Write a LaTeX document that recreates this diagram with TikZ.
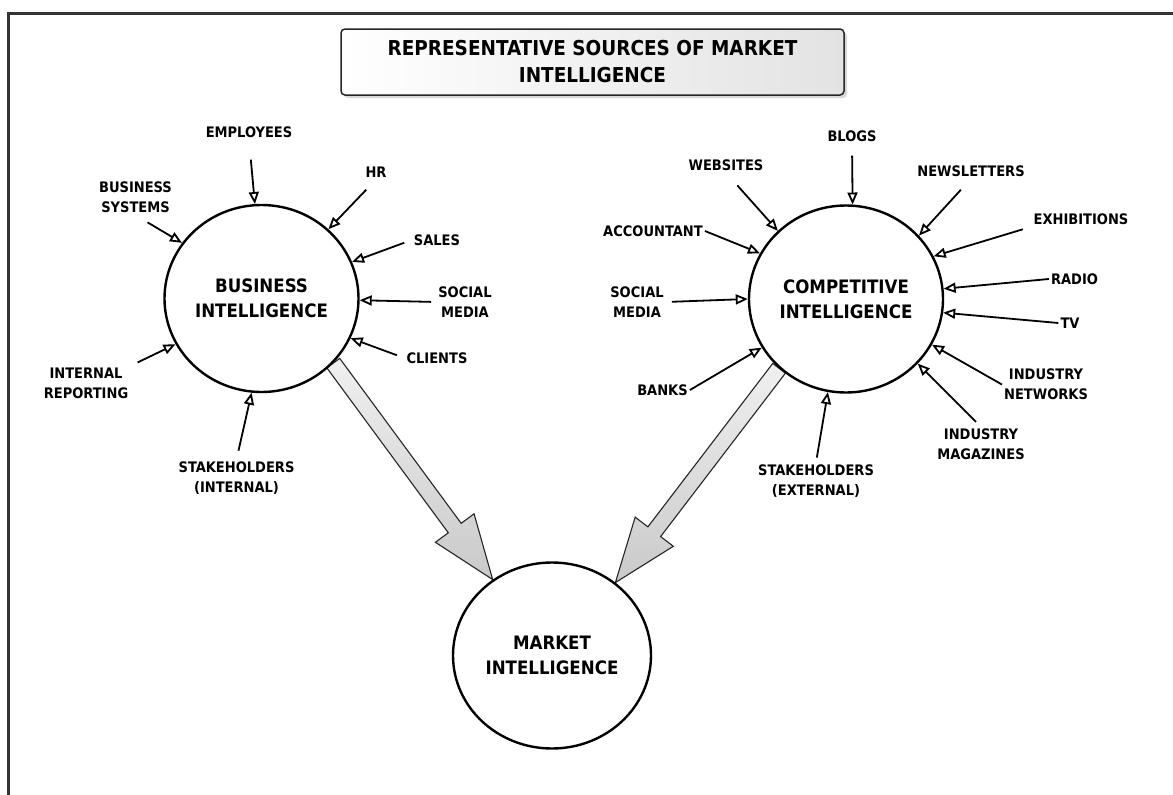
\documentclass[tikz,border=0pt]{standalone}
\usepackage{fontspec}
\setmainfont{DejaVu Sans Condensed}
\usetikzlibrary{arrows.meta, calc, shapes.geometric, shadows, backgrounds}

\tikzset{
	source/.style={font=\fontsize{14.5}{20}\selectfont\bfseries, align=center, inner sep=2pt},
	feed/.style={line width=1.8pt, -{Triangle[open, length=12pt, width=10pt]}},
	intel/.style={draw, ellipse, line width=2.4pt, fill=white, minimum width=194pt, minimum height=187pt, inner sep=0pt, align=center, font=\fontsize{18.5}{25}\selectfont\bfseries},
	bigarrow/.style={draw=black!85, line width=1.1pt, top color=gray!12, bottom color=gray!42},
	titlebox/.style={draw=black!85, line width=1.5pt, rounded corners=4pt, left color=white, right color=gray!22, drop shadow={shadow xshift=3pt, shadow yshift=-3pt, fill=gray!60}, minimum width=503pt, minimum height=66pt, align=center, font=\fontsize{20.5}{27}\selectfont\bfseries}
}

\begin{document}
\begin{tikzpicture}[x=1pt, y=-1pt]
		\useasboundingbox (0,0) rectangle (1173,795);
		
		\def\bigarrow(#1)(#2)% Syntax: (start)(tip)
		{ \coordinate (h) at ($(#2)!64pt!(#1)$);
		  \draw[bigarrow] ($(#1)!8pt!90:(#2)$) -- ($(h)!8pt!-90:(#1)$) -- ($(h)!24pt!-90:(#1)$) -- (#2) -- ($(h)!24pt!90:(#1)$) -- ($(h)!8pt!90:(#1)$) -- ($(#1)!8pt!-90:(#2)$) -- cycle; }
		
		\draw[line width=3pt, black!80] (1173,13) -- (8,13) -- (8,795);
		\node[titlebox] (title) at (592.5,62) {REPRESENTATIVE SOURCES OF MARKET\\INTELLIGENCE};
		
		\node[intel] (bi) at (261.5,298.5) {BUSINESS\\INTELLIGENCE};
		\node[intel] (ci) at (846,299) {COMPETITIVE\\INTELLIGENCE};
		\node[intel, minimum width=198pt, minimum height=186pt] (mi) at (552,655.5) {MARKET\\INTELLIGENCE};
		
		\begin{scope}[on background layer]
		\fill[white] (0,0) rectangle (1173,795);
		\bigarrow(bi.-42)(mi.128)
		\bigarrow(ci.226)(mi.49)
		\end{scope}
		
		% business side
		\node[source] (employees) at (249,132) {EMPLOYEES};
		\node[source] (hr) at (376,172) {HR};
		\node[source] (bussys) at (135.5,197.5) {BUSINESS\\SYSTEMS};
		\node[source] (sales) at (437,240) {SALES};
		\node[source] (socialb) at (465,302) {SOCIAL\\MEDIA};
		\node[source] (clients) at (437,358) {CLIENTS};
		\node[source] (intrep) at (86,383.5) {INTERNAL\\REPORTING};
		\node[source] (stakeint) at (236.5,478) {STAKEHOLDERS\\(INTERNAL)};
		
		\draw[feed, shorten <=20pt] (employees.south) -- (bi.94);
		\draw[feed, shorten <=14pt] (hr.south) -- (bi.46);
		\draw[feed, shorten <=14pt] (bussys.south) -- (bi.145);
		\draw[feed, shorten <=8pt] (sales.west) -- (bi.22);
		\draw[feed, shorten <=5pt] (socialb.west) -- (bi.-1);
		\draw[feed, shorten <=8pt] (clients.west) -- (bi.-24);
		\draw[feed, shorten <=8pt] (intrep.north east) -- (bi.208);
		\draw[feed, shorten <=9pt] (stakeint.north) -- (bi.-96);
		
		% competitive side
		\node[source] (blogs) at (852,136) {BLOGS};
		\node[source] (websites) at (726,165) {WEBSITES};
		\node[source] (newsletters) at (971,171) {NEWSLETTERS};
		\node[source] (accountant) at (653,231) {ACCOUNTANT};
		\node[source] (exhibitions) at (1081,219) {EXHIBITIONS};
		\node[source] (socialc) at (637,302) {SOCIAL\\MEDIA};
		\node[source] (radio) at (1074.5,279) {RADIO};
		\node[source] (tv) at (1070,323) {TV};
		\node[source] (banks) at (662.5,390) {BANKS};
		\node[source] (indnet) at (1046,384.5) {INDUSTRY\\NETWORKS};
		\node[source] (indmag) at (981,444.5) {INDUSTRY\\MAGAZINES};
		\node[source] (stakeext) at (816,481) {STAKEHOLDERS\\(EXTERNAL)};
		
		\draw[feed, shorten <=12pt] (blogs.south) -- (ci.86);
		\draw[feed, shorten <=17pt] (websites.south) -- (ci.135);
		\draw[feed, shorten <=15pt] (newsletters.south) -- (ci.41);
		\draw[feed] (accountant.east) -- (ci.152);
		\draw[feed, shorten <=9pt] (exhibitions.south west) -- (ci.26);
		\draw[feed, shorten <=6pt] (socialc.east) -- (ci.180);
		\draw[feed] (radio.west) -- (ci.6);
		\draw[feed] (tv.west) -- (ci.-8);
		\draw[feed] (banks.east) -- (ci.210);
		\draw[feed] (indnet.west) -- (ci.-28);
		\draw[feed, shorten <=7pt] (indmag.north) -- (ci.-42);
		\draw[feed, shorten <=5pt] (stakeext.north) -- (ci.-101);
\end{tikzpicture}
\end{document}
